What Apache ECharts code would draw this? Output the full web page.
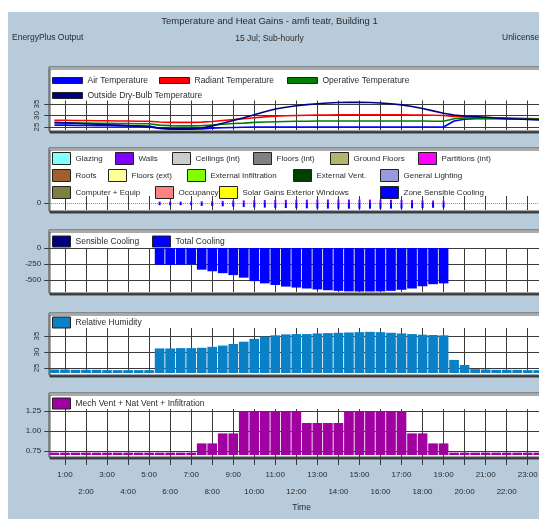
<!DOCTYPE html>
<html>
<head>
<meta charset="utf-8">
<script src="https://cdn.jsdelivr.net/npm/echarts@6/dist/echarts.min.js"></script>
<style>
  html, body { margin: 0; padding: 0; background: #fff; }
  #chart { width: 539px; height: 519px; }
</style>
</head>
<body>
<div id="chart"></div>
<script>
// half-hourly time stamps (period ending)
const times = [
  '0:30', '1:00', '1:30', '2:00', '2:30', '3:00', '3:30', '4:00', '4:30', '5:00',
  '5:30', '6:00', '6:30', '7:00', '7:30', '8:00', '8:30', '9:00', '9:30', '10:00',
  '10:30', '11:00', '11:30', '12:00', '12:30', '13:00', '13:30', '14:00', '14:30', '15:00',
  '15:30', '16:00', '16:30', '17:00', '17:30', '18:00', '18:30', '19:00', '19:30', '20:00',
  '20:30', '21:00', '21:30', '22:00', '22:30', '23:00', '23:30', '24:00'
]

// temperatures, C
const airTemp = [
  25.8, 25.8, 25.7, 25.7, 25.6, 25.6, 25.5, 25.5, 25.4, 25.4,
  24.4, 24.2, 24.1, 24.1, 24.2, 24.5, 24.7, 24.8, 24.9, 25.0,
  25.0, 25.0, 25.0, 25.0, 25.0, 25.0, 25.0, 25.0, 25.0, 25.0,
  25.0, 25.0, 25.0, 25.0, 25.0, 25.0, 25.0, 25.0, 27.6, 28.4,
  28.6, 28.6, 28.6, 28.5, 28.5, 28.4, 28.4, 28.3
]
const radiantTemp = [
  27.9, 27.9, 27.8, 27.8, 27.7, 27.7, 27.6, 27.6, 27.5, 27.5,
  27.2, 27.0, 27.0, 27.0, 27.1, 27.4, 27.8, 28.2, 28.6, 29.0,
  29.4, 29.7, 29.9, 30.0, 30.1, 30.2, 30.2, 30.3, 30.3, 30.3,
  30.3, 30.3, 30.3, 30.3, 30.2, 30.2, 30.1, 30.0, 29.6, 29.4,
  29.2, 29.1, 29.0, 28.9, 28.8, 28.7, 28.6, 28.5
]
const operativeTemp = [
  26.8, 26.8, 26.7, 26.7, 26.6, 26.6, 26.5, 26.5, 26.4, 26.4,
  25.8, 25.6, 25.5, 25.5, 25.6, 25.9, 26.2, 26.5, 26.7, 27.0,
  27.2, 27.3, 27.4, 27.5, 27.5, 27.6, 27.6, 27.6, 27.6, 27.6,
  27.6, 27.6, 27.6, 27.6, 27.6, 27.6, 27.5, 27.5, 28.6, 28.9,
  28.9, 28.8, 28.8, 28.7, 28.6, 28.5, 28.5, 28.4
]
const outsideTemp = [
  27.0, 26.8, 26.6, 26.4, 26.2, 26.0, 25.8, 25.6, 25.4, 25.0,
  24.5, 24.2, 24.2, 24.3, 24.6, 25.5, 26.6, 27.8, 29.0, 30.3,
  31.6, 32.8, 33.6, 34.2, 34.7, 35.1, 35.4, 35.6, 35.7, 35.7,
  35.6, 35.4, 35.1, 34.6, 33.9, 33.0, 32.0, 31.0, 30.2, 29.8,
  29.5, 29.2, 28.9, 28.7, 28.5, 28.3, 28.1, 28.0
]

// heat gains, W (tiny at this scale)
const wallsGain = [
  null, null, null, null, null, null, null, null, null, null,
  150, 150, 160, 170, 200, 220, 250, 280, 300, 320,
  340, 350, 360, 370, 380, 390, 400, 400, 400, 400,
  390, 380, 370, 350, 330, 300, 280, 260, null, null,
  null, null, null, null, null, null, null, null
]
const zoneSensibleCooling = [
  null, null, null, null, null, null, null, null, null, null,
  -250, -250, -250, -250, -330, -350, -380, -410, -450, -500,
  -530, -560, -580, -600, -610, -630, -640, -650, -650, -650,
  -650, -650, -640, -630, -610, -580, -550, -530, null, null,
  null, null, null, null, null, null, null, null
]

// cooling, W
const totalCooling = [
  0, 0, 0, 0, 0, 0, 0, 0, 0, 0,
  -265, -265, -262, -258, -340, -365, -395, -425, -465, -520,
  -555, -580, -605, -620, -635, -650, -662, -672, -680, -682,
  -682, -680, -672, -655, -635, -600, -568, -555, 0, 0,
  0, 0, 0, 0, 0, 0, 0, 0
]
const sensibleCooling = []

// relative humidity, %
const humidity = [
  24.5, 24.5, 24.4, 24.4, 24.4, 24.3, 24.3, 24.3, 24.3, 24.3,
  31.1, 31.1, 31.2, 31.2, 31.3, 31.6, 32.0, 32.5, 33.2, 34.1,
  34.8, 35.2, 35.5, 35.6, 35.6, 35.8, 35.9, 36.0, 36.1, 36.2,
  36.3, 36.2, 36.0, 35.8, 35.6, 35.4, 35.3, 35.2, 27.5, 25.9,
  24.6, 24.5, 24.4, 24.4, 24.4, 24.3, 24.3, 24.3
]

// air changes per hour
const ventilation = [
  0.73, 0.73, 0.73, 0.73, 0.73, 0.73, 0.73, 0.73, 0.73, 0.73,
  0.73, 0.73, 0.73, 0.73, 0.845, 0.845, 0.97, 0.97, 1.25, 1.25,
  1.25, 1.25, 1.25, 1.25, 1.10, 1.10, 1.10, 1.10, 1.25, 1.25,
  1.25, 1.25, 1.25, 1.25, 0.97, 0.97, 0.845, 0.845, 0.73, 0.73,
  0.73, 0.73, 0.73, 0.73, 0.73, 0.73, 0.73, 0.73
]

const tempTicks = [25, 30, 35]
const gainTicks = [0]
const coolTicks = [0, -250, -500]
const rhTicks = [25, 30, 35]
const ventTicks = [0.75, 1.00, 1.25]

const FONT = '"Liberation Sans", Arial, sans-serif'
const INK = '#2b2b2b'
const GRIDLINE = '#3a3a3a'

const chart = echarts.init(document.getElementById('chart'))

// panel boxes and plot areas
const panels = [
  { top: 67, height: 64 },
  { top: 148, height: 63 },
  { top: 230, height: 63 },
  { top: 313, height: 62 },
  { top: 393, height: 64 },
]
const plots = [
  { top: 100.5, height: 29.5 },
  { top: 196, height: 14 },
  { top: 248, height: 44 },
  { top: 328, height: 45 },
  { top: 409, height: 46 },
]

// hour marks only, 24:00 falls off the right edge in the original
const isHour = (i, v) => v.endsWith(':00') && v !== '24:00'

function xAxisFor(i) {
  const last = i === plots.length - 1
  return {
    type: 'category',
    gridIndex: i,
    data: times,
    boundaryGap: true,
    axisLine: { show: false },
    axisTick: last
      ? { show: true, alignWithLabel: true, interval: isHour, length: 10, lineStyle: { color: GRIDLINE } }
      : { show: false },
    axisLabel: last
      ? {
          interval: isHour,
          fontFamily: FONT, fontSize: 8, color: INK, margin: 11, lineHeight: 17,
          formatter: (v) => (parseInt(v) % 2 === 0 ? '\n' + v : v),
        }
      : { show: false },
    splitLine: { show: true, interval: isHour, alignWithLabel: true, lineStyle: { color: GRIDLINE, width: 1 } },
    name: last ? 'Time' : '',
    nameLocation: 'middle',
    nameGap: 48,
    nameTextStyle: { fontFamily: FONT, fontSize: 8.5, color: INK },
  }
}

function yAxisFor(i, min, max, ticks, opts = {}) {
  return {
    type: 'value',
    gridIndex: i,
    min, max,
    axisLine: { show: false },
    axisTick: { show: true, length: 5, customValues: ticks, lineStyle: { color: GRIDLINE } },
    axisLabel: {
      customValues: ticks,
      fontFamily: FONT, fontSize: 8, color: INK, margin: 8,
      rotate: opts.rotate || 0,
      formatter: opts.formatter,
    },
    splitLine: { show: true, lineStyle: { color: opts.splitColor || GRIDLINE, width: 1, type: opts.splitType || 'solid' } },
  }
}

function legendItem(name, left, cy, w, h, size) {
  return {
    data: [name], left, top: cy - h / 2,
    itemWidth: w, itemHeight: h, padding: 0, itemGap: 0,
    icon: 'rect', selectedMode: false,
    itemStyle: { borderColor: '#222', borderWidth: 1 },
    textStyle: { fontFamily: FONT, fontSize: size || 8.5, color: INK },
  }
}

const lineLegend = [
  ['Air Temperature', 52, 79], ['Radiant Temperature', 159, 79], ['Operative Temperature', 287, 79],
  ['Outside Dry-Bulb Temperature', 52, 94],
]
const gainLegend = [
  ['Glazing', 52, 158], ['Walls', 115, 158], ['Ceilings (int)', 172, 158], ['Floors (int)', 253, 158],
  ['Ground Floors', 330, 158], ['Partitions (int)', 418, 158],
  ['Roofs', 52, 175], ['Floors (ext)', 108, 175], ['External Infiltration', 187, 175],
  ['External Vent.', 293, 175], ['General Lighting', 380, 175],
  ['Computer + Equip', 52, 192], ['Occupancy', 155, 192], ['Solar Gains Exterior Windows', 219, 192],
  ['Zone Sensible Cooling', 380, 192],
]
const boxLegend = [
  ['Sensible Cooling', 52, 241], ['Total Cooling', 152, 241],
  ['Relative Humidity', 52, 322],
  ['Mech Vent + Nat Vent + Infiltration', 52, 403],
]

const gainColors = {
  'Glazing': '#80ffff', 'Walls': '#7f00ff', 'Ceilings (int)': '#cccccc', 'Floors (int)': '#808080',
  'Ground Floors': '#b4b46e', 'Partitions (int)': '#ff00ff', 'Roofs': '#a0602c', 'Floors (ext)': '#ffff99',
  'External Infiltration': '#80ff00', 'External Vent.': '#004000', 'General Lighting': '#9999dd',
  'Computer + Equip': '#7f7f3f', 'Occupancy': '#ff8080', 'Solar Gains Exterior Windows': '#ffff00',
  'Zone Sensible Cooling': '#0000ff',
}
const gainData = { 'Walls': wallsGain, 'Zone Sensible Cooling': zoneSensibleCooling }

function lineSeries(name, data, color) {
  return {
    name, type: 'line', data, xAxisIndex: 0, yAxisIndex: 0,
    showSymbol: false, symbol: 'none', color,
    lineStyle: { color, width: 1.6 }, itemStyle: { color },
  }
}

const series = [
  lineSeries('Air Temperature', airTemp, '#0000ff'),
  lineSeries('Radiant Temperature', radiantTemp, '#ff0000'),
  lineSeries('Operative Temperature', operativeTemp, '#008000'),
  lineSeries('Outside Dry-Bulb Temperature', outsideTemp, '#000080'),
  ...gainLegend.map(([name]) => ({
    name, type: 'bar', xAxisIndex: 1, yAxisIndex: 1, stack: 'gains',
    data: gainData[name] || [], barWidth: 2,
    itemStyle: { color: gainColors[name] },
  })),
  {
    name: 'Sensible Cooling', type: 'bar', xAxisIndex: 2, yAxisIndex: 2,
    data: sensibleCooling, barGap: '-100%', barCategoryGap: '8%', itemStyle: { color: '#000080' },
  },
  {
    name: 'Total Cooling', type: 'bar', xAxisIndex: 2, yAxisIndex: 2,
    data: totalCooling, barGap: '-100%', barCategoryGap: '8%', itemStyle: { color: '#0000ff' },
  },
  {
    name: 'Relative Humidity', type: 'bar', xAxisIndex: 3, yAxisIndex: 3,
    data: humidity, barCategoryGap: '8%', itemStyle: { color: '#0a80c6' },
  },
  {
    name: 'Mech Vent + Nat Vent + Infiltration', type: 'bar', xAxisIndex: 4, yAxisIndex: 4,
    data: ventilation, barCategoryGap: '8%', itemStyle: { color: '#a000a0' },
  },
]

const bg = '#b8cbda'

chart.setOption({
  backgroundColor: bg,
  animation: false,
  title: {
    text: 'Temperature and Heat Gains - amfi teatr, Building 1',
    subtext: '15 Jul; Sub-hourly',
    left: 'center', top: 11, itemGap: 8,
    textStyle: { fontFamily: FONT, fontSize: 9.5, fontWeight: 'normal', color: INK },
    subtextStyle: { fontFamily: FONT, fontSize: 8.5, color: INK },
  },
  graphic: [
    { type: 'rect', z: -10, shape: { x: 0, y: 0, width: 539, height: 12 }, style: { fill: '#fff' } },
    { type: 'rect', z: -10, shape: { x: 0, y: 0, width: 8, height: 519 }, style: { fill: '#fff' } },
    { type: 'text', z: 10, left: 12, top: 33, style: { text: 'EnergyPlus Output', font: '8.5px ' + FONT, fill: INK } },
    { type: 'text', z: 10, left: 502, top: 33, style: { text: 'Unlicensed', font: '8.5px ' + FONT, fill: INK } },
    ...panels.map((p) => ({
      type: 'rect', z: -5,
      shape: { x: 49, y: p.top, width: 540, height: p.height },
      style: {
        fill: '#fff', stroke: '#4a4a4a', lineWidth: 1,
        shadowColor: 'rgba(30,30,30,0.75)', shadowOffsetX: 1, shadowOffsetY: 2, shadowBlur: 0,
      },
    })),
  ],
  legend: [
    ...lineLegend.map(([n, l, y]) => legendItem(n, l, y, 30, 6)),
    ...gainLegend.map(([n, l, y]) => legendItem(n, l, y, 18, 12, 8)),
    ...boxLegend.map(([n, l, y]) => legendItem(n, l, y, 18, 11)),
  ],
  grid: plots.map((p) => ({
    left: 49.2, right: -15, top: p.top, height: p.height,
    outerBoundsMode: 'none', containLabel: false,
  })),
  xAxis: plots.map((p, i) => xAxisFor(i)),
  yAxis: [
    yAxisFor(0, 23.7, 36.5, tempTicks, { rotate: 90 }),
    yAxisFor(1, -800, 800, gainTicks, { splitColor: '#888', splitType: 'dotted' }),
    yAxisFor(2, -690, 0, coolTicks),
    yAxisFor(3, 23.4, 37.5, rhTicks, { rotate: 90 }),
    yAxisFor(4, 0.7, 1.275, ventTicks, { formatter: (v) => v.toFixed(2) }),
  ],
  series,
})
</script>
</body>
</html>
